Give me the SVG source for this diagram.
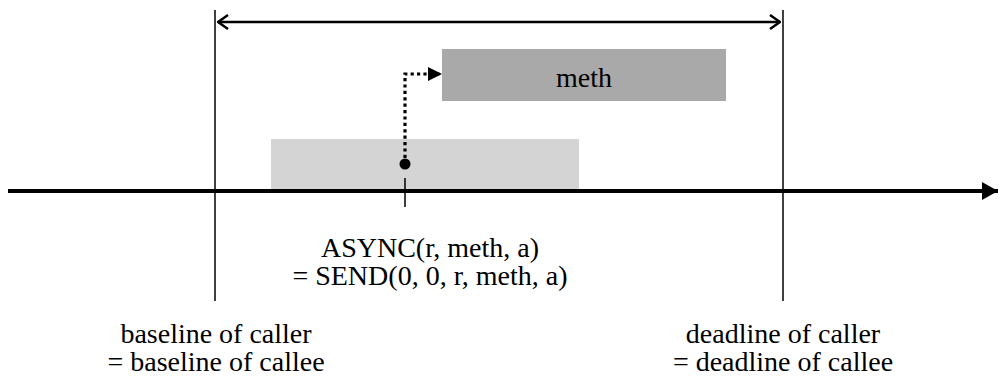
<svg xmlns="http://www.w3.org/2000/svg" width="998" height="378" viewBox="0 0 998 378">
  <defs>
    <style>
      text { font-family: "Liberation Serif", "Times New Roman", serif; font-size: 28px; fill: #000; text-anchor: middle; }
      .bound { stroke: #000; stroke-width: 1.5; fill: none; }
      .axis { stroke: #000; stroke-width: 4; fill: none; }
      .span { stroke: #000; stroke-width: 2.5; fill: none; }
      .dotted { stroke: #000; stroke-width: 3.2; stroke-dasharray: 3.2 3.2; fill: none; }
    </style>
    <marker id="open" viewBox="0 0 12 16" refX="11" refY="8" markerWidth="12" markerHeight="16" markerUnits="userSpaceOnUse" orient="auto-start-reverse">
      <path d="M1,1 L11,8 L1,15" fill="none" stroke="#000" stroke-width="2.5" stroke-linejoin="miter"/>
    </marker>
    <marker id="fillHead" viewBox="0 0 16 18" refX="16" refY="9" markerWidth="16" markerHeight="18" markerUnits="userSpaceOnUse" orient="auto">
      <path d="M0,0 L16,9 L0,18 Z" fill="#000"/>
    </marker>
    <marker id="smallHead" viewBox="0 0 14 14" refX="14" refY="7" markerWidth="14" markerHeight="14" markerUnits="userSpaceOnUse" orient="auto">
      <path d="M0,0 L14,7 L0,14 Z" fill="#000"/>
    </marker>
  </defs>

  <g id="caller-bar">
    <rect x="271" y="139" width="308" height="51" fill="#d4d4d4"/>
  </g>
  <g id="meth">
    <rect x="442" y="49" width="284" height="52" fill="#a9a9a9"/>
    <text x="584" y="87">meth</text>
  </g>

  <g id="connectors">
    <line class="bound" x1="215" y1="10" x2="215" y2="301"/>
    <line class="bound" x1="783" y1="10" x2="783" y2="301"/>
    <line class="span" x1="218" y1="22" x2="780" y2="22" marker-start="url(#open)" marker-end="url(#open)"/>
    <line class="axis" x1="8" y1="191" x2="998" y2="191" marker-end="url(#fillHead)"/>
    <line class="bound" x1="405" y1="178" x2="405" y2="207"/>
    <path class="dotted" d="M405,158 L405,74 L442,74" marker-end="url(#smallHead)"/>
    <circle cx="405" cy="164" r="5.5" fill="#000"/>
  </g>

  <g id="async-label">
    <text x="430" y="257">ASYNC(r, meth, a)</text>
    <text x="430" y="285">= SEND(0, 0, r, meth, a)</text>
  </g>
  <g id="baseline-label">
    <text x="216" y="343">baseline of caller</text>
    <text x="216" y="371">= baseline of callee</text>
  </g>
  <g id="deadline-label">
    <text x="783" y="343">deadline of caller</text>
    <text x="783" y="371">= deadline of callee</text>
  </g>
</svg>
